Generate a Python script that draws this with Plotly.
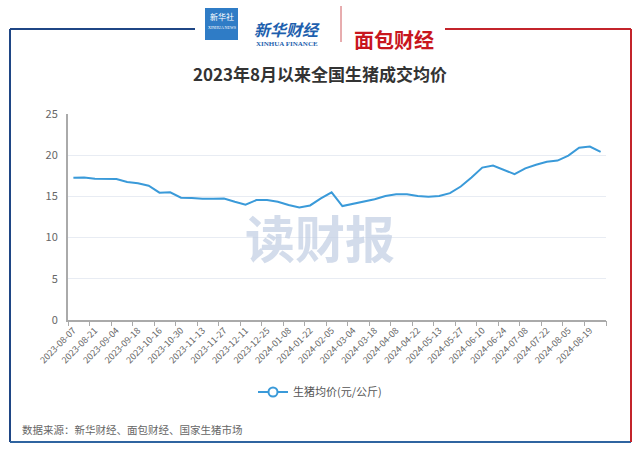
import plotly.graph_objects as go

# weekly national average live-hog price (yuan/kg)
dates = [
    "2023-08-07", "2023-08-14", "2023-08-21", "2023-08-28", "2023-09-04",
    "2023-09-11", "2023-09-18", "2023-09-25", "2023-10-16", "2023-10-23",
    "2023-10-30", "2023-11-06", "2023-11-13", "2023-11-20", "2023-11-27",
    "2023-12-04", "2023-12-11", "2023-12-18", "2023-12-25", "2024-01-01",
    "2024-01-08", "2024-01-15", "2024-01-22", "2024-01-29", "2024-02-05",
    "2024-02-26", "2024-03-04", "2024-03-11", "2024-03-18", "2024-03-25",
    "2024-04-08", "2024-04-15", "2024-04-22", "2024-05-06", "2024-05-13",
    "2024-05-20", "2024-05-27", "2024-06-03", "2024-06-10", "2024-06-17",
    "2024-06-24", "2024-07-01", "2024-07-08", "2024-07-15", "2024-07-22",
    "2024-07-29", "2024-08-05", "2024-08-12", "2024-08-19", "2024-08-26",
]
prices = [
    17.27, 17.30, 17.15, 17.15, 17.10, 16.75, 16.60, 16.30, 15.45, 15.50,
    14.85, 14.80, 14.70, 14.70, 14.75, 14.35, 14.00, 14.55, 14.55, 14.35,
    13.95, 13.65, 13.90, 14.75, 15.50, 13.83, 14.10, 14.35, 14.65, 15.05,
    15.25, 15.25, 15.05, 14.97, 15.05, 15.40, 16.20, 17.30, 18.50, 18.75,
    18.20, 17.70, 18.40, 18.85, 19.20, 19.35, 19.95, 20.90, 21.05, 20.40,
]
series_name = "生猪均价(元/公斤)"
title = "2023年8月以来全国生猪成交均价"
source = "数据来源：新华财经、面包财经、国家生猪市场"

W, H = 640, 453
ML, MR, MT, MB = 68, 34, 114, 133
PW = W - ML - MR
PH = H - MT - MB

def px(x):
    return (x - ML) / PW

def py(y):
    return (H - MB - y) / PH

FONT = "Noto Sans CJK SC, Arial, sans-serif"
BLUE = "#3a9ad9"

fig = go.Figure()
fig.add_trace(go.Scatter(x=dates, y=prices, mode="lines", name=series_name,
                         line=dict(color=BLUE, width=2), showlegend=False))
# legend entry with the hollow circle symbol
fig.add_trace(go.Scatter(x=[None], y=[None], mode="lines+markers", name=series_name,
                         line=dict(color=BLUE, width=2),
                         marker=dict(symbol="circle", size=9, color="white",
                                     line=dict(color=BLUE, width=2))))
# boundary tick marks (every two categories), like the category axis in the original
n = len(dates)
fig.add_trace(go.Scatter(x=[None], y=[None], xaxis="x2", showlegend=False))

fig.update_layout(
    width=W, height=H,
    margin=dict(l=ML, r=MR, t=MT, b=MB),
    paper_bgcolor="white", plot_bgcolor="white",
    font=dict(family=FONT, color="#666"),
    title=dict(text="<b>" + title + "</b>", x=0.5, xanchor="center",
               y=1 - 75 / H, yanchor="middle",
               font=dict(size=17, color="#333", family=FONT)),
    xaxis=dict(type="category", range=[-0.5, n - 0.5],
               tickvals=dates[::2], ticktext=dates[::2], tickangle=-45,
               tickfont=dict(size=9, color="#666"), ticks="",
               showgrid=False, showline=True, linecolor="#aaa", linewidth=1.5,
               zeroline=False),
    xaxis2=dict(overlaying="x", range=[-0.5, n - 0.5], side="bottom",
                tickvals=[i - 0.5 for i in range(0, n + 1, 2)],
                showticklabels=False, ticks="outside", ticklen=5,
                tickcolor="#aaa", showgrid=False, showline=False, zeroline=False),
    yaxis=dict(range=[0, 25], dtick=5, tickfont=dict(size=11, color="#666"),
               showgrid=True, gridcolor="#e8ecf3", gridwidth=1,
               showline=True, linecolor="#aaa", linewidth=2,
               zeroline=False, ticks="", ticklabelstandoff=6),
    legend=dict(orientation="h", x=px(320), xanchor="center",
                y=py(392), yanchor="middle",
                font=dict(size=11, color="#555"), itemwidth=30),
)

# watermark
fig.add_annotation(text="<b>读财报</b>", x=px(320), y=py(236), xref="paper", yref="paper",
                   showarrow=False, font=dict(size=50, color="rgba(196,208,228,0.75)", family=FONT))

# source note
fig.add_annotation(text=source, x=px(20), y=py(429), xref="paper", yref="paper",
                   xanchor="left", yanchor="middle", showarrow=False,
                   font=dict(size=10.5, color="#666", family=FONT))

# outer frame
NAVY, RED = "#1f4685", "#c3242b"
frame = [
    (10, 29, 195, 29, NAVY), (10, 29, 10, 442, NAVY), (10, 442, 631, 442, "#2f64a0"),
    (445, 29, 631, 29, RED), (631, 29, 631, 442, RED),
]
for x0, y0, x1, y1, c in frame:
    fig.add_shape(type="line", x0=px(x0), y0=py(y0), x1=px(x1), y1=py(y1),
                  xref="paper", yref="paper", line=dict(color=c, width=2))

# header logos
fig.add_shape(type="rect", x0=px(205), y0=py(40), x1=px(238), y1=py(8),
              xref="paper", yref="paper", fillcolor="#2f7cc6", line=dict(width=0))
fig.add_annotation(text="新华社", x=px(221.5), y=py(16), xref="paper", yref="paper",
                   xanchor="center", yanchor="middle", showarrow=False,
                   font=dict(size=8, color="white", family=FONT))
fig.add_annotation(text="XINHUA NEWS", x=px(221.5), y=py(27), xref="paper", yref="paper",
                   xanchor="center", yanchor="middle", showarrow=False,
                   font=dict(size=4, color="white", family="Liberation Serif"))
fig.add_annotation(text="<b><i>新华财经</i></b>", x=px(287), y=py(15), xref="paper", yref="paper",
                   showarrow=False, font=dict(size=16, color="#1d5fae", family=FONT))
fig.add_annotation(text="<b>XINHUA FINANCE</b>", x=px(287), y=py(38), xref="paper", yref="paper",
                   showarrow=False, font=dict(size=7, color="#1d5fae", family="Liberation Serif"))
fig.add_shape(type="line", x0=px(341), y0=py(6), x1=px(341), y1=py(42),
              xref="paper", yref="paper", line=dict(color="#d05a5f", width=1))
fig.add_annotation(text="<b>面包财经</b>", x=px(394), y=py(23), xref="paper", yref="paper",
                   showarrow=False, font=dict(size=20, color="#c8161d", family=FONT))

# the page body keeps its default 8px margin otherwise
fig.write_html("out.html", config={"displayModeBar": False},
               post_script="document.body.style.margin='0';document.body.style.overflow='hidden';")
